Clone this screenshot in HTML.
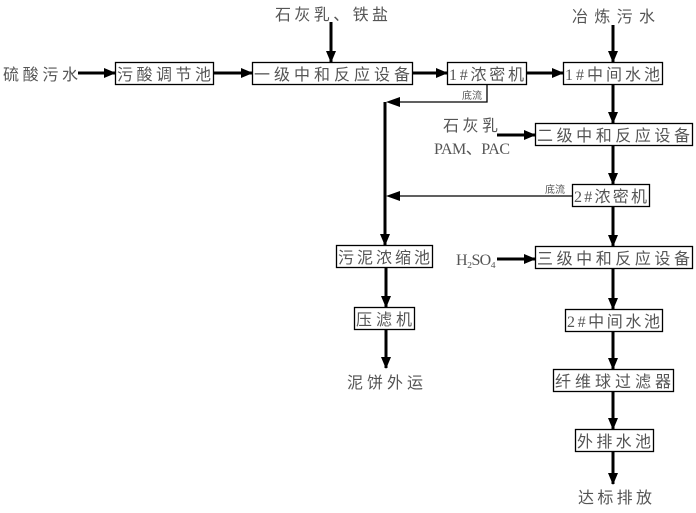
<!DOCTYPE html>
<html><head><meta charset="utf-8"><style>body{margin:0;background:#fff}svg{display:block}</style></head><body>
<svg width="696" height="513" viewBox="0 0 696 513" xmlns="http://www.w3.org/2000/svg" font-family="'Liberation Serif','Noto Sans CJK SC',sans-serif" font-size="16" fill="#555">
<defs><marker id="a" markerWidth="8" markerHeight="8" refX="7" refY="4" orient="auto" markerUnits="userSpaceOnUse" viewBox="0 0 8 8"><path d="M0,0 L8,4 L0,8 z" fill="#000"/></marker>
<marker id="b" markerWidth="12" markerHeight="10" refX="11" refY="5" orient="auto" markerUnits="userSpaceOnUse"><path d="M0,0 L12,5 L0,10 z" fill="#000"/></marker></defs>
<g fill="none" stroke="#000" stroke-width="1.3">
<rect x="115.5" y="62.5" width="98" height="22"/>
<rect x="252.5" y="62.5" width="160" height="22"/>
<rect x="447.5" y="62.5" width="79" height="22"/>
<rect x="563.5" y="62.5" width="99" height="22"/>
<rect x="535.5" y="123.5" width="157" height="22"/>
<rect x="572.5" y="184.5" width="77" height="22"/>
<rect x="535.5" y="246.5" width="157" height="22"/>
<rect x="336.5" y="245.5" width="96" height="22"/>
<rect x="354.5" y="307.5" width="60" height="22"/>
<rect x="565.5" y="309.5" width="97" height="22"/>
<rect x="553.5" y="369.5" width="120" height="22"/>
<rect x="575.5" y="429.5" width="78" height="22"/>
</g>
<g stroke="#000" stroke-width="3" marker-end="url(#b)">
<line x1="78" y1="73" x2="115" y2="73"/>
<line x1="213" y1="73" x2="252" y2="73"/>
<line x1="412" y1="73" x2="447" y2="73"/>
<line x1="526" y1="73" x2="563" y2="73"/>
<line x1="331" y1="22" x2="331" y2="62"/>
<line x1="613" y1="25" x2="613" y2="62"/>
<line x1="613" y1="84" x2="613" y2="123"/>
<line x1="613" y1="145" x2="613" y2="184"/>
<line x1="613" y1="206" x2="613" y2="246"/>
<line x1="613" y1="268" x2="613" y2="309"/>
<line x1="613" y1="331" x2="613" y2="369"/>
<line x1="613" y1="391" x2="613" y2="429"/>
<line x1="613" y1="451" x2="613" y2="484"/>
<line x1="497" y1="135" x2="535" y2="135"/>
<line x1="497" y1="259" x2="535" y2="259"/>
<line x1="385" y1="102" x2="385" y2="245"/>
<line x1="386" y1="267" x2="386" y2="307"/>
<line x1="386" y1="329" x2="386" y2="368"/>
</g>
<g stroke="#000" stroke-width="1.3" fill="none">
<polyline points="487,84 487,102 400,102"/>
<line x1="572" y1="196" x2="400" y2="196"/>
</g>
<g fill="#000"><path d="M386,102 L400,97 L400,107 z"/><path d="M386,196 L400,191 L400,201 z"/></g>
<g>
<text x="3" y="80" textLength="75">硫酸污水</text>
<text x="117" y="80" textLength="94">污酸调节池</text>
<text x="254" y="80" textLength="156">一级中和反应设备</text>
<text x="449" y="80" textLength="75">1#浓密机</text>
<text x="565" y="80" textLength="95">1#中间水池</text>
<text x="275" y="20" textLength="113">石灰乳、铁盐</text>
<text x="572" y="22" textLength="83">冶炼污水</text>
<text x="443" y="131" textLength="55">石灰乳</text>
<text x="434" y="154" textLength="76">PAM、PAC</text>
<text x="537" y="141" textLength="153">二级中和反应设备</text>
<text x="574" y="202" textLength="73">2#浓密机</text>
<text x="537" y="264" textLength="153">三级中和反应设备</text>
<text x="456" y="265" textLength="40">H₂SO₄</text>
<text x="338" y="263" textLength="92">污泥浓缩池</text>
<text x="356" y="325" textLength="56">压滤机</text>
<text x="347" y="388" textLength="76">泥饼外运</text>
<text x="567" y="327" textLength="93">2#中间水池</text>
<text x="555" y="387" textLength="116">纤维球过滤器</text>
<text x="577" y="447" textLength="74">外排水池</text>
<text x="578" y="503" textLength="74">达标排放</text>
<text x="462" y="99" font-size="10" textLength="20">底流</text>
<text x="545" y="193" font-size="10" textLength="20">底流</text>
</g>
</svg>
</body></html>
